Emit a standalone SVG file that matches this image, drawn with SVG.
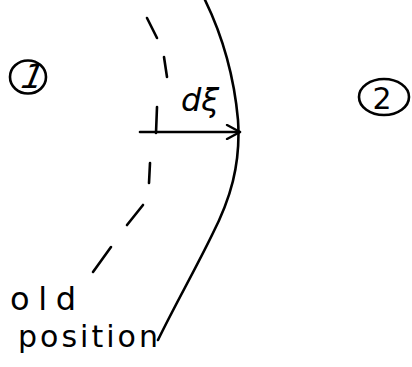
<svg xmlns="http://www.w3.org/2000/svg" width="412" height="367" viewBox="0 0 412 367">
<style>
.ink{fill:none;stroke:#000;stroke-width:2.6;stroke-linecap:round;stroke-linejoin:round}
.t{font-family:"DejaVu Sans","Liberation Sans",sans-serif;fill:#000}
</style>
<defs>
<marker id="ah" viewBox="0 0 16 16" refX="15" refY="8" markerWidth="16" markerHeight="16" orient="auto" markerUnits="userSpaceOnUse">
<path d="M2,1 L15,8 L2,15" fill="none" stroke="#000" stroke-width="2.4" stroke-linecap="round" stroke-linejoin="round"/>
</marker>
</defs>
<rect width="412" height="367" fill="#fff"/>
<g id="region1">
<ellipse class="ink" cx="28" cy="77" rx="18" ry="16.5"/>
<text class="t" x="0" y="0" font-size="34" text-anchor="middle" transform="translate(28,88) skewX(-22)">1</text>
</g>
<g id="region2">
<ellipse class="ink" cx="384" cy="97" rx="25" ry="18"/>
<text class="t" x="382" y="109" font-size="30" text-anchor="middle">2</text>
</g>
<g id="front">
<path class="ink" d="M205,0 C222,35 234,75 238,120 C241,165 230,200 212,235 C195,270 175,305 158,340"/>
</g>
<g id="old-front">
<path class="ink" d="M147,18 L157,38"/>
<path class="ink" d="M164,57 L167,77"/>
<path class="ink" d="M150,163 L149,183"/>
<path class="ink" d="M143,205 L127,225"/>
<path class="ink" d="M111,247 L93,272"/>
</g>
<g id="connectors">
<path class="ink" d="M157,107 L156,133"/>
<path class="ink" d="M140,132 L240,132" marker-end="url(#ah)"/>
</g>
<g id="labels">
<text class="t" x="181" y="111" font-size="32" font-style="italic">dξ</text>
<text class="t" x="10" y="310" font-size="32" textLength="66" lengthAdjust="spacing">old</text>
<text class="t" x="18" y="347" font-size="30" textLength="140" lengthAdjust="spacing">position</text>
</g>
</svg>
